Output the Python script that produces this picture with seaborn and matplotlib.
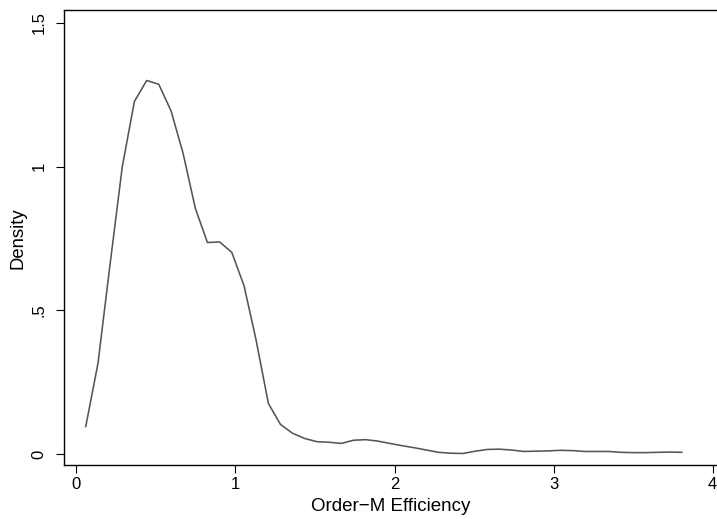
import matplotlib
matplotlib.use("Agg")
import matplotlib.pyplot as plt
import seaborn as sns
import pandas as pd

# Kernel density estimate of order-m efficiency scores (50 evaluation points)
efficiency = [0.059, 0.136, 0.212, 0.289, 0.365, 0.442, 0.518, 0.595, 0.671, 0.748,
              0.824, 0.901, 0.977, 1.054, 1.130, 1.207, 1.283, 1.360, 1.436, 1.513,
              1.589, 1.666, 1.742, 1.819, 1.895, 1.971, 2.048, 2.124, 2.201, 2.277,
              2.354, 2.430, 2.507, 2.583, 2.660, 2.736, 2.813, 2.889, 2.966, 3.042,
              3.119, 3.195, 3.272, 3.348, 3.424, 3.501, 3.577, 3.654, 3.730, 3.807]
density = [0.096, 0.316, 0.660, 1.000, 1.226, 1.299, 1.286, 1.194, 1.046, 0.855,
           0.736, 0.738, 0.702, 0.586, 0.397, 0.177, 0.104, 0.073, 0.055, 0.044,
           0.042, 0.038, 0.049, 0.051, 0.046, 0.038, 0.030, 0.023, 0.015, 0.007,
           0.004, 0.003, 0.011, 0.017, 0.018, 0.015, 0.010, 0.011, 0.012, 0.014,
           0.013, 0.010, 0.010, 0.010, 0.007, 0.006, 0.006, 0.007, 0.008, 0.007]

x_ticks = [0, 1, 2, 3, 4]
x_ticklabels = ["0", "1", "2", "3", "4"]
y_ticks = [0, 0.5, 1, 1.5]
y_ticklabels = ["0", ".5", "1", "1.5"]

df = pd.DataFrame({"Order−M Efficiency": efficiency, "Density": density})

sns.set_theme(style="ticks")
plt.rcParams["font.family"] = ["Liberation Sans", "DejaVu Sans"]

fig = plt.figure(figsize=(7.17, 5.19), dpi=100)
ax = fig.add_axes([0.0897, 0.1035, 0.9103, 0.8767])

sns.lineplot(data=df, x="Order−M Efficiency", y="Density", ax=ax,
             color="#555555", linewidth=1.15, sort=False)

ax.set_xlim(-0.0755, 4.027)
ax.set_ylim(-0.038, 1.543)
ax.set_xticks(x_ticks)
ax.set_xticklabels(x_ticklabels)
ax.set_yticks(y_ticks)
ax.set_yticklabels(y_ticklabels, rotation=90, va="center")

ax.tick_params(axis="both", direction="out", length=5.6, width=0.8,
               color="black", labelsize=12, labelcolor="black")
ax.tick_params(axis="x", pad=3)
ax.tick_params(axis="y", pad=7)

for side in ["left", "bottom", "top"]:
    ax.spines[side].set_color("black")
    ax.spines[side].set_linewidth(1.0)
ax.spines["right"].set_visible(False)

ax.set_xlabel("Order−M Efficiency", fontsize=13.5, color="black", labelpad=4)
ax.set_ylabel("Density", fontsize=13.3, color="black", labelpad=4)

fig.savefig("out.png", dpi=100, facecolor="white")
